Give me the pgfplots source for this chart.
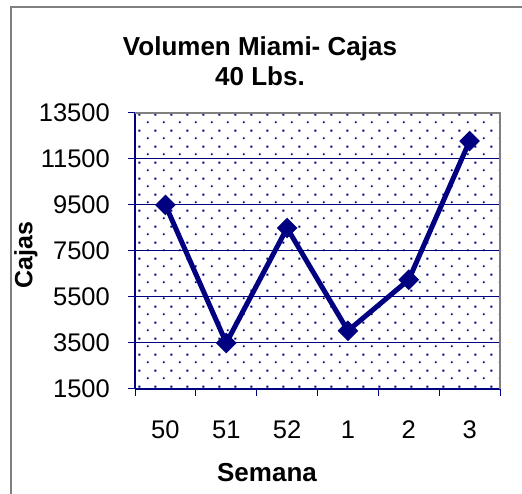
\documentclass[border=0pt]{standalone}
\usepackage{pgfplots}
\pgfplotsset{compat=1.18}
\usepackage{fontspec}
\setmainfont{Liberation Sans}
\usetikzlibrary{patterns}
\definecolor{navy}{RGB}{0,0,128}
\definecolor{framegray}{RGB}{128,128,128}
\pgfdeclarepatternformonly{xldots}{\pgfpointorigin}{\pgfpoint{16bp}{16bp}}{\pgfpoint{16bp}{16bp}}{%
  \pgfpathrectangle{\pgfpoint{3bp}{3bp}}{\pgfpoint{2bp}{2bp}}%
  \pgfpathrectangle{\pgfpoint{11bp}{11bp}}{\pgfpoint{2bp}{2bp}}%
  \pgfusepath{fill}}
\begin{document}
\begin{tikzpicture}[x=1bp,y=1bp]
\useasboundingbox (0,0) rectangle (522,494);
\draw[framegray, line width=2bp] (11,-2) -- (11,487) -- (524,487);
\begin{axis}[
  at={(135bp,105bp)}, anchor=south west,
  scale only axis, width=365bp, height=276bp,
  xmin=0, xmax=6, ymin=1500, ymax=13500,
  xtick={0,1,...,6}, xticklabels={50,51,52,1,2,3},
  x tick label as interval,
  ytick={1500,3500,...,13500},
  axis lines*=left,
  axis line style={-, navy, line width=1.5bp},
  ymajorgrids, grid style={navy, line width=1bp},
  tick style={navy, line width=1bp},
  tick align=outside, major tick length=7bp,
  tick label style={font=\fontsize{25.5bp}{30bp}\selectfont},
  xticklabel style={anchor=base, inner sep=0pt, yshift=-43bp},
  yticklabel style={anchor=east, inner sep=0pt, xshift=-18bp},
  scaled y ticks=false,
  /pgf/number format/.cd, fixed, 1000 sep={}, assume math mode=true,
  /pgfplots/.cd,
  axis background/.style={pattern=xldots, pattern color=navy},
  clip=false,
]
\addplot[navy, line width=5bp, mark=square*, mark size=6.8bp,
  mark options={rotate=45, solid, line width=1bp}]
  coordinates {(0.5,9500) (1.5,3500) (2.5,8500) (3.5,4030) (4.5,6250) (5.5,12280)};
\draw[framegray, line width=2bp] (rel axis cs:0,1) -- (rel axis cs:1,1) -- (rel axis cs:1,0);
\end{axis}
\node[anchor=base, inner sep=0pt, font=\fontsize{26bp}{30bp}\selectfont\bfseries] at (260,438.3) {Volumen Miami- Cajas};
\node[anchor=base, inner sep=0pt, font=\fontsize{26bp}{30bp}\selectfont\bfseries] at (260,408) {40 Lbs.};
\node[anchor=base, inner sep=0pt, font=\fontsize{26bp}{30bp}\selectfont\bfseries] at (267,12) {Semana};
\node[rotate=90, inner sep=0pt, font=\fontsize{25bp}{30bp}\selectfont\bfseries] at (26,239) {Cajas};
\end{tikzpicture}
\end{document}
